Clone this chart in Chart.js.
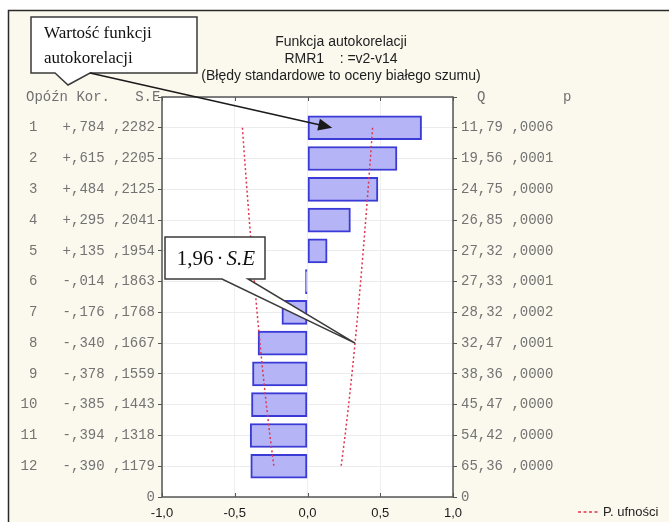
<!DOCTYPE html>
<html>
<head>
<meta charset="utf-8">
<script src="https://cdn.jsdelivr.net/npm/chart.js@4/dist/chart.umd.min.js"></script>
<style>
  html, body { margin: 0; padding: 0; background: #ffffff; }
  #wrap { width: 669px; height: 522px; position: relative; }
  #acf { display: block; }
</style>
</head>
<body>
<div id="wrap"><canvas id="acf" width="669" height="522"></canvas></div>
<script>
// Autocorrelation function of RMR1 (lags 1..12)
const lags = [1, 2, 3, 4, 5, 6, 7, 8, 9, 10, 11, 12];
const autocorr = [0.784, 0.615, 0.484, 0.295, 0.135, -0.014, -0.176, -0.340, -0.378, -0.385, -0.394, -0.390];
const stdErr = [0.2282, 0.2205, 0.2125, 0.2041, 0.1954, 0.1863, 0.1768, 0.1667, 0.1559, 0.1443, 0.1318, 0.1179];
const qStat = [11.79, 19.56, 24.75, 26.85, 27.32, 27.33, 28.32, 32.47, 38.36, 45.47, 54.42, 65.36];
const pValue = [0.0006, 0.0001, 0.0000, 0.0000, 0.0000, 0.0001, 0.0002, 0.0001, 0.0000, 0.0000, 0.0000, 0.0000];
const xTicks = [-1, -0.5, 0, 0.5, 1];
const zCrit = 1.96;

const titleLines = ['Funkcja autokorelacji', 'RMR1    : =v2-v14', '(Błędy standardowe to oceny białego szumu)'];
const leftHeader = 'Opóźn Kor.   S.E';
const legendLabel = 'P. ufności';

// lag 1 sits at the top of the plot, lag 12 near the bottom
const rowCount = lags.length;
const rowPos = lags.map((l) => rowCount + 1 - l);

const fmtKor = (v) => (v >= 0 ? '+' : '-') + ',' + String(Math.round(Math.abs(v) * 1000)).padStart(3, '0');
const fmtFrac4 = (v) => ',' + String(Math.round(v * 10000)).padStart(4, '0');
const fmtQ = (v) => v.toFixed(2).replace('.', ',');
const fmtAxis = (v) => v.toFixed(1).replace('.', ',');

function lagFromValue(v) {
  return rowPos.indexOf(Math.round(v));
}

const monoFont = { family: '"Liberation Mono", "DejaVu Sans Mono", monospace', size: 14 };

const decorPlugin = {
  id: 'decor',
  beforeDraw(chart) {
    const { ctx, chartArea: a, width, height } = chart;
    ctx.save();
    ctx.fillStyle = '#ffffff';
    ctx.fillRect(0, 0, width, height);
    ctx.fillStyle = '#fbf8ee';
    ctx.fillRect(8, 10, width - 8, height - 10);
    ctx.strokeStyle = '#2a2a2a';
    ctx.lineWidth = 1.5;
    ctx.beginPath();
    ctx.moveTo(8.5, height);
    ctx.lineTo(8.5, 10.5);
    ctx.lineTo(width, 10.5);
    ctx.stroke();
    ctx.fillStyle = '#ffffff';
    ctx.fillRect(a.left, a.top, a.right - a.left, a.bottom - a.top);
    ctx.restore();
  },
  beforeDatasetsDraw(chart) {
    const { ctx, chartArea: a, scales } = chart;
    ctx.save();
    // plot frame
    ctx.strokeStyle = '#555555';
    ctx.lineWidth = 1.5;
    ctx.strokeRect(a.left, a.top, a.right - a.left, a.bottom - a.top);
    // inward tick marks on the top and bottom edges
    ctx.lineWidth = 1;
    xTicks.forEach((t) => {
      const px = Math.round(scales.x.getPixelForValue(t)) + 0.5;
      ctx.beginPath();
      ctx.moveTo(px, a.top); ctx.lineTo(px, a.top + 4);
      ctx.moveTo(px, a.bottom); ctx.lineTo(px, a.bottom - 4);
      ctx.stroke();
    });
    ctx.restore();
  },
  afterDraw(chart) {
    const { ctx, chartArea: a, scales } = chart;
    ctx.save();

    // title block
    ctx.fillStyle = '#1e1e1e';
    ctx.font = '14px "Liberation Sans", Arial, sans-serif';
    ctx.textAlign = 'center';
    ctx.textBaseline = 'middle';
    titleLines.forEach((t, i) => ctx.fillText(t, 341, 42 + i * 17));

    // column headers
    ctx.font = `${monoFont.size}px ${monoFont.family}`;
    ctx.fillStyle = '#707070';
    ctx.textAlign = 'left';
    ctx.fillText(leftHeader, 26, a.top);
    ctx.fillText('Q', 477, a.top);
    ctx.fillText('p', 563, a.top);

    // legend
    const ly = 512;
    ctx.strokeStyle = '#e0344e';
    ctx.lineWidth = 1.5;
    ctx.setLineDash([3, 2.5]);
    ctx.beginPath();
    ctx.moveTo(578, ly); ctx.lineTo(598, ly);
    ctx.stroke();
    ctx.setLineDash([]);
    ctx.fillStyle = '#222222';
    ctx.font = '13px "Liberation Sans", Arial, sans-serif';
    ctx.textAlign = 'left';
    ctx.fillText(legendLabel, 603, ly);

    // callout: value of the autocorrelation function, with arrow to lag 1
    ctx.lineWidth = 1.5;
    ctx.strokeStyle = '#3a3a3a';
    ctx.fillStyle = '#ffffff';
    ctx.beginPath();
    ctx.moveTo(31, 17); ctx.lineTo(197, 17); ctx.lineTo(197, 73);
    ctx.lineTo(90, 73); ctx.lineTo(68, 85); ctx.lineTo(55, 73);
    ctx.lineTo(31, 73); ctx.closePath();
    ctx.fill(); ctx.stroke();
    ctx.fillStyle = '#111111';
    ctx.font = '17px "Liberation Serif", "Times New Roman", serif';
    ctx.textAlign = 'left';
    ctx.textBaseline = 'alphabetic';
    ctx.fillText('Wartość funkcji', 44, 38);
    ctx.fillText('autokorelacji', 44, 63);

    const tipX = scales.x.getPixelForValue(0.17);
    const tipY = scales.y.getPixelForValue(rowPos[0]);
    const sx = 90, sy = 73;
    const ang = Math.atan2(tipY - sy, tipX - sx);
    ctx.strokeStyle = '#1a1a1a';
    ctx.lineWidth = 1.5;
    ctx.beginPath();
    ctx.moveTo(sx, sy);
    ctx.lineTo(tipX - 10 * Math.cos(ang), tipY - 10 * Math.sin(ang));
    ctx.stroke();
    ctx.fillStyle = '#1a1a1a';
    ctx.beginPath();
    ctx.moveTo(tipX, tipY);
    ctx.lineTo(tipX - 14 * Math.cos(ang) + 6 * Math.sin(ang), tipY - 14 * Math.sin(ang) - 6 * Math.cos(ang));
    ctx.lineTo(tipX - 14 * Math.cos(ang) - 6 * Math.sin(ang), tipY - 14 * Math.sin(ang) + 6 * Math.cos(ang));
    ctx.closePath();
    ctx.fill();

    // callout: 1.96 * S.E pointing at the upper bound of lag 8
    const bx = scales.x.getPixelForValue(zCrit * stdErr[7]);
    const by = scales.y.getPixelForValue(rowPos[7]);
    ctx.strokeStyle = '#3a3a3a';
    ctx.fillStyle = '#ffffff';
    ctx.lineWidth = 1.5;
    ctx.beginPath();
    ctx.moveTo(165, 237); ctx.lineTo(265, 237); ctx.lineTo(265, 279);
    ctx.lineTo(248, 279); ctx.lineTo(bx, by); ctx.lineTo(222, 279);
    ctx.lineTo(165, 279); ctx.closePath();
    ctx.fill(); ctx.stroke();

    const partA = '1,96';
    const partB = '·';
    const partC = 'S.E';
    const gap = 3;
    const upFont = '21px "Liberation Serif", "Times New Roman", serif';
    const itFont = 'italic 21px "Liberation Serif", "Times New Roman", serif';
    ctx.font = upFont;
    const wA = ctx.measureText(partA).width;
    const wB = ctx.measureText(partB).width;
    ctx.font = itFont;
    const wC = ctx.measureText(partC).width;
    const x0 = 216 - (wA + wB + wC + 2 * gap) / 2;
    const ty = 265;
    ctx.fillStyle = '#111111';
    ctx.font = upFont;
    ctx.fillText(partA, x0, ty);
    ctx.fillText(partB, x0 + wA + gap, ty);
    ctx.font = itFont;
    ctx.fillText(partC, x0 + wA + wB + 2 * gap, ty);

    ctx.restore();
  }
};

const barData = autocorr.map((v, i) => ({ x: v, y: rowPos[i] }));
const lowerData = stdErr.map((s, i) => ({ x: -zCrit * s, y: rowPos[i] }));
const upperData = stdErr.map((s, i) => ({ x: zCrit * s, y: rowPos[i] }));

// confidence limits are drawn above the bars (lower order = drawn later)
const confStyle = {
  type: 'line',
  indexAxis: 'y',
  order: 0,
  borderColor: '#e0344e',
  borderWidth: 1.5,
  borderDash: [2, 2.5],
  pointRadius: 0,
  fill: false,
  tension: 0,
  xAxisID: 'x',
  yAxisID: 'y'
};

function rowTicks(scale) {
  const t = [];
  for (let v = 0; v <= rowCount + 1; v++) t.push({ value: v });
  scale.ticks = t;
}

new Chart(document.getElementById('acf'), {
  type: 'bar',
  data: {
    datasets: [
      {
        label: 'Kor.',
        data: barData,
        order: 1,
        backgroundColor: '#b4b4f6',
        borderColor: '#3a3ad6',
        borderWidth: 2,
        borderSkipped: false,
        barThickness: 24,
        xAxisID: 'x',
        yAxisID: 'y'
      },
      Object.assign({ label: legendLabel, data: lowerData }, confStyle),
      Object.assign({ label: legendLabel + ' +', data: upperData }, confStyle)
    ]
  },
  options: {
    indexAxis: 'y',
    responsive: false,
    animation: false,
    devicePixelRatio: 1,
    layout: { padding: { top: 97, left: 0, right: 0, bottom: 0 } },
    plugins: { legend: { display: false }, title: { display: false }, tooltip: { enabled: false } },
    scales: {
      x: {
        type: 'linear',
        position: 'bottom',
        min: -1,
        max: 1,
        offset: false,
        afterBuildTicks(scale) { scale.ticks = xTicks.map((v) => ({ value: v })); },
        afterFit(scale) { scale.height = 25; },
        border: { display: false },
        grid: { color: '#efefef', drawTicks: false, offset: false },
        ticks: {
          padding: 9,
          color: '#1a1a1a',
          font: { family: '"Liberation Sans", Arial, sans-serif', size: 13 },
          callback: (v) => fmtAxis(v)
        }
      },
      y: {
        type: 'linear',
        position: 'left',
        min: 0,
        max: rowCount + 1,
        offset: false,
        afterBuildTicks: rowTicks,
        afterFit(scale) { scale.width = 162; },
        border: { display: false },
        grid: { color: '#ececec', tickColor: '#555555', tickLength: 4, offset: false },
        ticks: {
          padding: 3,
          color: '#737373',
          autoSkip: false,
          font: monoFont,
          callback: (v) => {
            if (v === 0) return '0';
            const i = lagFromValue(v);
            if (i < 0) return '';
            return String(lags[i]).padStart(2, ' ') + '   ' + fmtKor(autocorr[i]) + ' ' + fmtFrac4(stdErr[i]);
          }
        }
      },
      y2: {
        type: 'linear',
        position: 'right',
        min: 0,
        max: rowCount + 1,
        offset: false,
        afterBuildTicks: rowTicks,
        afterFit(scale) { scale.width = 216; },
        border: { display: false },
        grid: { drawOnChartArea: false, color: '#555555', tickLength: 4, offset: false },
        ticks: {
          padding: 4,
          color: '#737373',
          autoSkip: false,
          font: monoFont,
          callback: (v) => {
            if (v === 0) return '0';
            const i = lagFromValue(v);
            if (i < 0) return '';
            return fmtQ(qStat[i]) + ' ' + fmtFrac4(pValue[i]);
          }
        }
      }
    }
  },
  plugins: [decorPlugin]
});
</script>
</body>
</html>
